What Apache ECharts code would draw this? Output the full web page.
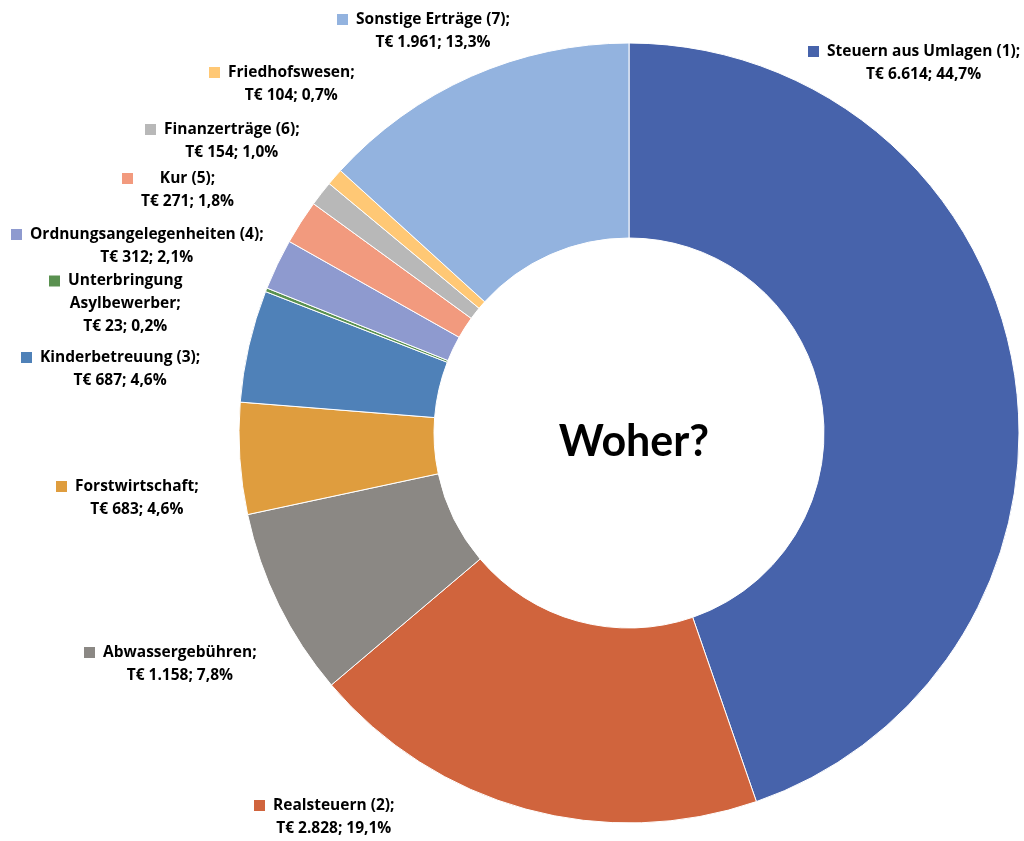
<!DOCTYPE html>
<html>
<head>
<meta charset="utf-8">
<script src="https://cdn.jsdelivr.net/npm/echarts@6/dist/echarts.min.js"></script>
<style>html,body{margin:0;padding:0;background:#fff}#c{width:1024px;height:841px}</style>
</head>
<body>
<div id="c"></div>
<script>
// ---- data ----
const categories = [
  'Steuern aus Umlagen (1)', 'Realsteuern (2)', 'Abwassergebühren', 'Forstwirtschaft',
  'Kinderbetreuung (3)', 'Unterbringung Asylbewerber', 'Ordnungsangelegenheiten (4)',
  'Kur (5)', 'Finanzerträge (6)', 'Friedhofswesen', 'Sonstige Erträge (7)'
];
const values = [6614, 2828, 1158, 683, 687, 23, 312, 271, 154, 104, 1961];
const percents = ['44,7', '19,1', '7,8', '4,6', '4,6', '0,2', '2,1', '1,8', '1,0', '0,7', '13,3'];
const centerTitle = 'Woher?';

// ---- styling ----
const colors = ['#4763AB', '#D0643D', '#8B8884', '#DF9D3E', '#4F81B8', '#5A9150',
  '#8E9ACF', '#F29A7E', '#B8B8B8', '#FFC875', '#93B3DF'];
// label block anchor: [left x of key square, vertical centre]
const labelPos = [[808, 63], [254, 817], [84, 664], [56, 498], [21, 369], [49, 304],
  [11, 246], [122, 190], [145, 141], [209, 84], [337, 31]];
const wrap = { 'Unterbringung Asylbewerber': ['Unterbringung', 'Asylbewerber;'] };
const FAM = 'Open Sans', FS = 15.5, FW = 'bold';
const FONT = FW + ' ' + FS + 'px "' + FAM + '"';
const SQ = 11, GAP = 8;

const ctx = document.createElement('canvas').getContext('2d');
ctx.font = FONT;
const tw = s => ctx.measureText(s).width;
const fmtT = v => 'T€ ' + String(v).replace(/\B(?=(\d{3})+(?!\d))/g, '.');

const data = categories.map((name, i) => {
  const lines = (wrap[name] || [name + ';']).concat([fmtT(values[i]) + '; ' + percents[i] + '%']);
  const widths = lines.map(tw);
  const maxW = Math.max(...widths);
  const rich = { sq: { width: SQ, height: SQ, backgroundColor: colors[i] } };
  const parts = lines.map((ln, k) => {
    const lead = (k === 0 ? GAP : SQ + GAP) + (maxW - widths[k]) / 2;
    rich['s' + k] = { width: Math.max(0.01, lead) };
    return (k === 0 ? '{sq| }' : '') + '{s' + k + '| }{t|' + ln + '}';
  });
  rich.t = { fontFamily: FAM, fontWeight: FW, fontSize: FS, color: '#000' };
  return { name, value: values[i], itemStyle: { color: colors[i] },
    label: { formatter: parts.join('\n'), rich } };
});

const chart = echarts.init(document.getElementById('c'));
chart.setOption({
  animation: false,
  title: { text: centerTitle, left: 629, top: 437, textAlign: 'center', textVerticalAlign: 'middle',
    textStyle: { fontFamily: 'Lato', fontWeight: 'bold', fontSize: 43, color: '#000' } },
  series: [{
    type: 'pie', center: [629, 433], radius: [195, 390], startAngle: 90, clockwise: true,
    avoidLabelOverlap: false,
    itemStyle: { borderColor: '#fff', borderWidth: 1 },
    label: { show: true, position: 'outside', lineHeight: 23, align: 'left',
      fontFamily: FAM, fontWeight: FW, fontSize: FS, color: '#000' },
    labelLine: { show: false },
    labelLayout: p => ({ x: labelPos[p.dataIndex][0], y: labelPos[p.dataIndex][1],
      align: 'left', verticalAlign: 'middle' }),
    data
  }]
});
</script>
</body>
</html>
